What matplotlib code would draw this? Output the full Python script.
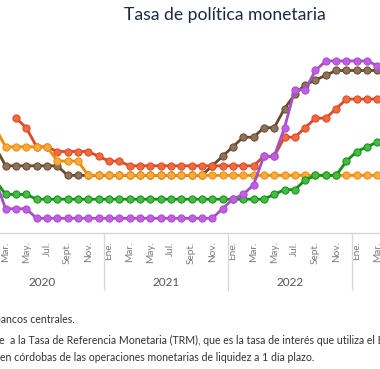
import numpy as np
import matplotlib
matplotlib.use("Agg")
import matplotlib.pyplot as plt
import matplotlib.transforms as mtransforms

plt.rcParams["font.family"] = ["Lato", "DejaVu Sans"]

# monthly data, Feb 2020 .. Apr 2023 (month index 1 = Feb 2020)
months = np.arange(1, 40)
month_names = ["Ene.", "Mar.", "May.", "Jul.", "Sept.", "Nov."]
years = ["2020", "2021", "2022"]

rep_dominicana = [4.5] + [3.5] * 6 + [3.0] * 14 + [3.5, 4.0, 4.5, 5.0, 5.0, 5.5, 5.5,
                  6.5, 7.25, 7.75, 8.0, 8.25] + [8.5] * 6
nicaragua = [np.nan, np.nan, 6.0, 5.5, 4.5, 4.5] + [4.25] * 4 + [4.0, 3.75, 3.75] \
            + [3.5] * 13 + [4.0, 4.0, 5.0, 5.0, 5.5, 6.0, 6.0, 6.5] + [7.0] * 5
honduras = [5.5] + [4.5] * 5 + [3.75] * 3 + [3.0] * 30
guatemala = [2.75] + [2.0] * 3 + [1.75] * 23 + [2.0, 2.25, 2.25, 2.75, 3.0, 3.0, 3.0,
             3.75, 4.25, 4.5, 4.75, 5.0]
costa_rica = [2.75] + [1.25] * 3 + [0.75] * 18 + [1.25, 1.75, 2.0, 2.5, 4.0, 4.0, 5.5,
              7.5, 7.5, 8.5] + [9.0] * 5 + [8.75, 8.5]

series = [
    (rep_dominicana, "#6a4a2a", "#8c735c"),
    (nicaragua, "#d9492a", "#f2693a"),
    (honduras, "#ef8c00", "#f9aa45"),
    (guatemala, "#129112", "#45bb45"),
    (costa_rica, "#a650c8", "#c35ce6"),
]

fig = plt.figure(figsize=(3.80, 3.69), dpi=100)
ax = fig.add_axes([-0.0532, 0.3697, 1.1417, 0.5168])

for vals, lc, fc in series:
    ax.plot(months, vals, color=lc, lw=2.0, marker="o", ms=5.2,
            mfc=fc, mec=lc, mew=0.7, solid_joinstyle="round")

ax.set_xlim(-0.5, 41.5)
ax.set_ylim(0, 10)

ticks = np.arange(0, 40, 2)
ax.set_xticks(ticks)
ax.set_xticklabels([month_names[(t % 12) // 2] for t in ticks],
                   rotation=90, fontsize=7.2, color="#7a7a7a")
ax.tick_params(axis="x", length=0, pad=6.5)
ax.set_yticks([])

for side in ["top", "right", "left"]:
    ax.spines[side].set_visible(False)
ax.spines["bottom"].set_color("#d6d6d6")
ax.spines["bottom"].set_linewidth(1.0)

trans = mtransforms.blended_transform_factory(ax.transData, ax.transAxes)
for b in [11.5, 23.5, 35.5]:
    ax.plot([b, b], [0, -0.301], transform=trans, color="#d6d6d6",
            lw=0.9, clip_on=False)
for i, yr in enumerate(years):
    ax.text(12 * i + 5.5, -0.26, yr, transform=trans, ha="center",
            va="center", fontsize=8.5, color="#555555")

fig.text(0.592, 0.958, "Tasa de política monetaria", ha="center",
         va="center", fontsize=12.6, color="#1b2a44")

note_size = 7.6
fig.text(75 / 380, 1 - 319.5 / 369,
         "Fuente: elaboración propia con datos de bancos centrales.",
         ha="right", va="center", fontsize=note_size, color="#333333")
fig.text(4.5 / 380, 1 - 340 / 369, "1/ Corresponde", ha="right",
         va="center", fontsize=note_size, color="#333333")
fig.text(9.5 / 380, 1 - 340 / 369,
         "a la Tasa de Referencia Monetaria (TRM), que es la tasa de interés "
         "que utiliza el BCN como referencia",
         ha="left", va="center", fontsize=note_size, color="#333333")
fig.text(0.5 / 380, 1 - 357.5 / 369,
         "en córdobas de las operaciones monetarias de liquidez a 1 día plazo.",
         ha="left", va="center", fontsize=note_size, color="#333333")

fig.savefig("out.png", dpi=100)
plt.close(fig)
